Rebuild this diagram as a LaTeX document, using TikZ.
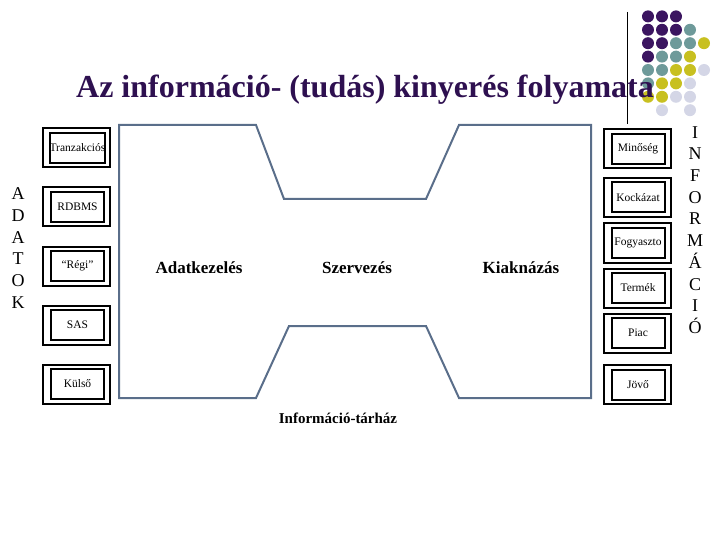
\documentclass[tikz,border=0pt]{standalone}
\usepackage{fontspec}
\setmainfont{Liberation Serif}
\begin{document}
\begin{tikzpicture}[x=1pt,y=-1pt,
 outer/.style={draw,line width=2pt,minimum width=67pt,minimum height=39pt,inner sep=0},
 inner/.style={draw,line width=2pt,minimum width=53pt,minimum height=30pt,inner sep=0,font=\fontsize{11.5}{12}\selectfont},
 big/.style={font=\bfseries\fontsize{17}{17}\selectfont},
 col/.style={font=\fontsize{18}{21.7}\selectfont,align=center}]
\definecolor{pp}{HTML}{3B1560}\definecolor{gg}{HTML}{6E9A9A}\definecolor{yy}{HTML}{C8C020}\definecolor{ll}{HTML}{D4D6E6}
\definecolor{tt}{HTML}{2E1050}\definecolor{ln}{HTML}{5A6E8A}
\useasboundingbox (0,0) rectangle (720,540);
% dots
\foreach \c/\r/\k in {1/1/pp,2/1/pp,3/1/pp,1/2/pp,2/2/pp,3/2/pp,4/2/gg,1/3/pp,2/3/pp,3/3/gg,4/3/gg,5/3/yy,1/4/pp,2/4/gg,3/4/gg,4/4/yy,1/5/gg,2/5/gg,3/5/yy,4/5/yy,5/5/ll,1/6/gg,2/6/yy,3/6/yy,4/6/ll,1/7/yy,2/7/yy,3/7/ll,4/7/ll,2/8/ll,4/8/ll}
  \fill[\k] ({634+14*\c},{3+13.4*\r}) circle (6);
\draw[line width=1pt] (627,12) -- (627,124);
\node[text=tt,font=\bfseries\fontsize{32}{32}\selectfont] (title) at (365,90) {Az információ- (tudás) kinyerés folyamata};
% funnel
\draw[ln,line width=2pt] (119,125) -- (256,125) -- (284,199) -- (426,199) -- (459,125) -- (591,125) -- (591,398) -- (459,398) -- (426,326) -- (289,326) -- (256,398) -- (119,398) -- cycle;
\node[big] (a) at (199,268) {Adatkezelés};
\node[big] (s) at (357,268) {Szervezés};
\node[big] (k) at (521,268) {Kiaknázás};
\node[font=\bfseries\fontsize{15}{15}\selectfont] (it) at (338,418) {Információ-tárház};
% left boxes
\foreach \n/\y/\t in {l1/148/Tranzakciós,l2/207/RDBMS,l3/266/“Régi”,l4/325/SAS,l5/384/Külső}{
 \node[outer] (\n o) at (76.5,\y) {};
 \node[inner] (\n) at (77.5,\y) {\t};}
% right boxes
\foreach \n/\y/\t in {r1/149/Minőség,r2/197.5/Kockázat,r3/243/Fogyaszto,r4/288/Termék,r5/333/Piac,r6/384.5/Jövő}{
 \node[outer] (\n o) at (637.5,\y) {};
 \node[inner] (\n) at (638,\y) {\t};}
\node[col] (adatok) at (18,248) {A\\D\\A\\T\\O\\K};
\node[col] (info) at (695,230) {I\\N\\F\\O\\R\\M\\Á\\C\\I\\Ó};
\end{tikzpicture}
\end{document}
